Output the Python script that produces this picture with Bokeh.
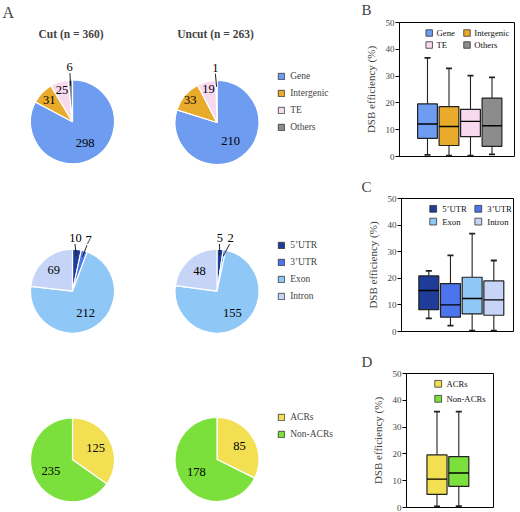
import numpy as np
from bokeh.plotting import figure
from bokeh.models import (ColumnDataSource, Range1d, Legend, LegendItem, Label, FixedTicker)
from bokeh.layouts import row, column
from bokeh.core.properties import value
from bokeh.embed import file_html
from bokeh.resources import INLINE

# ---------------- data ----------------
group_titles = ["Cut  (n = 360)", "Uncut  (n = 263)"]

region_cats = ["Gene", "Intergenic", "TE", "Others"]
region_cut = [298, 31, 25, 6]
region_uncut = [210, 33, 19, 1]

gene_cats = ["5\u2019UTR", "3\u2019UTR", "Exon", "Intron"]
gene_cut = [10, 7, 212, 69]
gene_uncut = [5, 2, 155, 48]

acr_cats = ["ACRs", "Non-ACRs"]
acr_cut = [125, 235]
acr_uncut = [85, 178]

# box plot statistics (DSB efficiency, %)
b_lower = [0.6, 0.3, 0.3, 0.8]
b_q1 = [6.8, 4.1, 7.4, 3.8]
b_median = [12.1, 11.2, 13.1, 11.5]
b_q3 = [19.6, 18.6, 17.6, 21.8]
b_upper = [36.8, 32.9, 30.2, 29.5]

c_lower = [4.9, 2.2, 0.3, 0.3]
c_q1 = [8.2, 5.4, 6.6, 6.1]
c_median = [15.4, 10.0, 12.4, 11.9]
c_q3 = [20.9, 18.0, 20.4, 19.0]
c_upper = [22.8, 28.6, 36.8, 26.7]

d_lower = [0.4, 0.5]
d_q1 = [4.9, 7.9]
d_median = [10.6, 12.9]
d_q3 = [19.6, 19.0]
d_upper = [35.8, 35.8]

dsb_ticks = [0, 10, 20, 30, 40, 50]

# ---------------- styles ----------------
region_colors = ["#6E9CF1", "#E9AB2C", "#F8DAEE", "#8C8C8C"]
gene_colors = ["#1F3C98", "#4C74EC", "#8FC8F6", "#C6D4F8"]
acr_colors = ["#F3DF52", "#7CE03C"]
SERIF = "Liberation Serif"
EDGE = "#222222"


def no_align(p):
    # keep every figure's frame exactly where its own borders put it
    try:
        p.frame_align = False
    except AttributeError:
        pass
    return p


# ---------------- left panel (pies) ----------------
pa = no_align(figure(width=356, height=512, x_range=Range1d(0, 356), y_range=Range1d(0, 512),
                     x_axis_location=None, y_axis_location=None, toolbar_location=None,
                     output_backend="svg", min_border=0, outline_line_color=None))
pa.grid.visible = False


def draw_pie(p, cx, cy, r, vals, colors, label_r, label_dx):
    v = np.array(vals, dtype=float)
    frac = v / v.sum()
    cum = np.concatenate([[0.0], np.cumsum(frac)])
    start = np.pi / 2 - cum[1:] * 2 * np.pi
    end = np.pi / 2 - cum[:-1] * 2 * np.pi
    mid = (start + end) / 2
    src = ColumnDataSource(dict(start=start, end=end, color=colors))
    p.wedge(x=cx, y=cy, radius=r, start_angle="start", end_angle="end",
            fill_color="color", line_color="white", line_width=1.2, source=src)
    lr = np.array(label_r)
    lx = cx + lr * r * np.cos(mid) + np.array(label_dx)
    ly = cy + lr * r * np.sin(mid)
    p.text(x=lx, y=ly, text=[str(int(x)) for x in vals], text_font=value(SERIF),
           text_font_size="12.5px", text_align="center", text_baseline="middle",
           text_color="black")
    out = lr > 1
    if out.any():
        r0 = (lr[out] - 0.14) * r
        r1 = 0.85 * r * np.ones(out.sum())
        dx = np.array(label_dx)[out]
        p.segment(x0=cx + r0 * np.cos(mid[out]) + dx, y0=cy + r0 * np.sin(mid[out]),
                  x1=cx + r1 * np.cos(mid[out]), y1=cy + r1 * np.sin(mid[out]),
                  line_color=EDGE, line_width=1)


R = 42
col_x = [72, 216.5]
draw_pie(pa, col_x[0], 390.7, R, region_cut, region_colors, [0.58, 0.76, 0.79, 1.3], [0, 0, 0, 0])
draw_pie(pa, col_x[1], 390.0, R, region_uncut, region_colors, [0.55, 0.83, 0.82, 1.3], [0, 0, 0, -1])
draw_pie(pa, col_x[0], 221.3, R, gene_cut, gene_colors, [1.27, 1.28, 0.6, 0.67], [-2.5, 1, 0, 0])
draw_pie(pa, col_x[1], 221.3, R, gene_uncut, gene_colors, [1.27, 1.28, 0.64, 0.63], [-1, 4, 0, 0])
draw_pie(pa, col_x[0], 52.7, R, acr_cut, acr_colors, [0.62, 0.58], [0, 0])
draw_pie(pa, col_x[1], 53.0, R, acr_uncut, acr_colors, [0.63, 0.58], [0, 0])

for t, x in zip(group_titles, col_x):
    pa.add_layout(Label(x=x, y=479, text=t, text_font=SERIF, text_font_size="11.5px",
                        text_font_style="bold", text_align="center", text_baseline="middle"))
pa.add_layout(Label(x=2, y=500, text="A", text_font=SERIF, text_font_size="16px",
                    text_baseline="middle"))


def pie_legend(p, cats, colors, loc):
    n = len(cats)
    src = ColumnDataSource(dict(x=[np.nan] * n, top=[np.nan] * n, color=colors))
    r = p.vbar(x="x", top="top", width=1, fill_color="color", line_color="#333333",
               line_width=0.8, source=src)
    items = [LegendItem(label=c, renderers=[r], index=i) for i, c in enumerate(cats)]
    lg = Legend(items=items, location=loc, glyph_width=8, glyph_height=8, label_standoff=5,
                label_text_font=SERIF, label_text_font_size="9.5px", label_height=11,
                spacing=6, padding=0, margin=0, border_line_color=None,
                background_fill_alpha=0)
    p.add_layout(lg)


pie_legend(pa, region_cats, region_colors, (277.2, 379.5))
pie_legend(pa, gene_cats, gene_colors, (277.2, 210.5))
pie_legend(pa, acr_cats, acr_colors, (277.2, 72.5))

# ---------------- right panels (box plots) ----------------
RW = 164  # width of the right column
RX = 356  # page x where the right column starts


def header(height, letter, mid_from_bottom):
    h = no_align(figure(width=RW, height=height, x_range=Range1d(0, RW),
                        y_range=Range1d(0, height), x_axis_location=None,
                        y_axis_location=None, toolbar_location=None, output_backend="svg",
                        min_border=0, outline_line_color=None))
    h.grid.visible = False
    h.add_layout(Label(x=361 - RX, y=mid_from_bottom, text=letter, text_font=SERIF,
                       text_font_size="15px", text_baseline="middle"))
    return h


def box_fig(height, frame_left, frame_w, frame_top_border, frame_h, xr, cats, colors,
            lower, q1, med, q3, upper, leg):
    bl = frame_left - RX
    bb = height - frame_top_border - frame_h
    p = no_align(figure(width=RW, height=height, x_range=Range1d(*xr), y_range=Range1d(0, 50),
                        x_axis_location=None, toolbar_location=None, output_backend="svg",
                        min_border_left=bl, min_border_right=RW - bl - frame_w,
                        min_border_top=frame_top_border, min_border_bottom=bb,
                        outline_line_color="black", outline_line_width=1))
    p.grid.visible = False
    ax = p.yaxis[0]
    ax.ticker = FixedTicker(ticks=dsb_ticks)
    ax.minor_tick_line_color = None
    ax.major_tick_in = 0
    ax.major_tick_out = 4
    ax.major_label_standoff = 1
    ax.major_label_text_font = SERIF
    ax.major_label_text_font_size = "9px"
    ax.axis_label = "DSB efficiency (%)"
    ax.axis_label_text_font = SERIF
    ax.axis_label_text_font_size = "11px"
    ax.axis_label_text_font_style = "normal"
    ax.axis_label_standoff = 6
    ax.axis_line_color = "black"
    ax.major_tick_line_color = "black"

    n = len(cats)
    x = np.arange(1, n + 1, dtype=float)
    bw = 0.92
    cw = 0.14
    src = ColumnDataSource(dict(x=x, lower=lower, q1=q1, med=med, q3=q3, upper=upper,
                                color=colors, xl=x - bw / 2, xr=x + bw / 2,
                                cl=x - cw, cr=x + cw))
    p.segment(x0="x", y0="q3", x1="x", y1="upper", source=src, line_color=EDGE, line_width=1.1)
    p.segment(x0="x", y0="q1", x1="x", y1="lower", source=src, line_color=EDGE, line_width=1.1)
    p.segment(x0="cl", y0="upper", x1="cr", y1="upper", source=src, line_color=EDGE, line_width=1.8)
    p.segment(x0="cl", y0="lower", x1="cr", y1="lower", source=src, line_color=EDGE, line_width=1.8)
    p.vbar(x="x", width=bw, top="q3", bottom="q1", source=src, fill_color="color",
           line_color=EDGE, line_width=1.2)
    p.segment(x0="xl", y0="med", x1="xr", y1="med", source=src, line_color="black", line_width=1.4)

    # in-frame legend (page position of the first key, column / row steps)
    (kx, ky), dx, dy, ncols, tdx, ksize = leg
    pxu = frame_w / (xr[1] - xr[0])
    pyu = frame_h / 50.0
    fb = frame_top_border + frame_h  # frame bottom, measured from figure top
    cols = np.arange(n) % ncols
    rows = np.arange(n) // ncols
    page_kx = kx + cols * dx
    page_ky = ky + rows * dy
    key_x = xr[0] + (page_kx - frame_left) / pxu
    key_y = (fb - page_ky) / pyu
    txt_x = xr[0] + (page_kx + tdx - frame_left) / pxu
    lsrc = ColumnDataSource(dict(kx=key_x, ky=key_y, tx=txt_x, color=colors, label=cats))
    p.rect(x="kx", y="ky", width=ksize, height=ksize, width_units="screen",
           height_units="screen", fill_color="color", line_color="#333333", line_width=0.8,
           source=lsrc)
    p.text(x="tx", y="ky", text="label", source=lsrc, text_font=value(SERIF),
           text_font_size="8.7px", text_baseline="middle", text_align="left",
           text_color="#111111")
    return p


# page-y bookkeeping: hB 0-17, pb 17-176, hC 176-193, pc 193-345, hD 345-368, pd 368-512
hB = header(17, "B", 8)
pb = box_fig(159, 399, 115, 5, 134, (-0.302, 5.047), region_cats, region_colors,
             b_lower, b_q1, b_median, b_q3, b_upper,
             ((428.7, 32.5 - 17), 37.8, 12, 2, 7.3, 6.5))
hC = header(17, "C", 7)
pc = box_fig(152, 401, 112, 5, 133, (-0.26, 4.908), gene_cats, gene_colors,
             c_lower, c_q1, c_median, c_q3, c_upper,
             ((432.7, 208.3 - 193), 45.1, 12.8, 2, 9, 6.8))
hD = header(23, "D", 7)
pd = box_fig(144, 406, 87, 5, 134, (-0.399, 3.592), acr_cats, acr_colors,
             d_lower, d_q1, d_median, d_q3, d_upper,
             ((437.7, 383.3 - 368), 0, 15, 1, 8.3, 6.8))

layout = row(pa, column(hB, pb, hC, pc, hD, pd, spacing=0), spacing=0)
open("out.html", "w").write(file_html(layout, INLINE))
